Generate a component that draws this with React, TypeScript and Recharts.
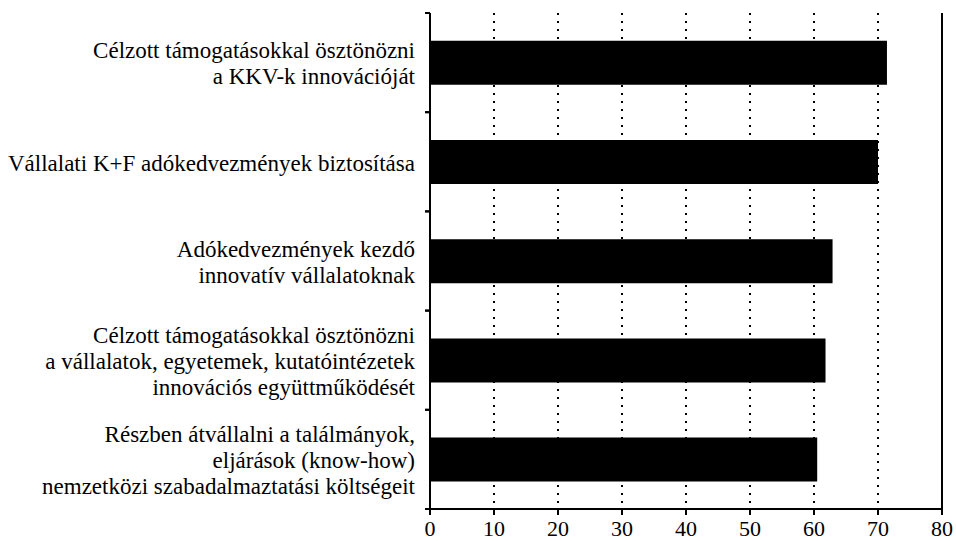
import { BarChart, Bar, XAxis, YAxis, CartesianGrid, ReferenceLine } from "recharts";

const categories = [
  "Célzott támogatásokkal ösztönözni\na KKV-k innovációját",
  "Vállalati K+F adókedvezmények biztosítása",
  "Adókedvezmények kezdő\ninnovatív vállalatoknak",
  "Célzott támogatásokkal ösztönözni\na vállalatok, egyetemek, kutatóintézetek\ninnovációs együttműködését",
  "Részben átvállalni a találmányok,\neljárások (know-how)\nnemzetközi szabadalmaztatási költségeit",
];
const values = [71.4, 70.0, 62.9, 61.8, 60.5];
const xTicks = [0, 10, 20, 30, 40, 50, 60, 70, 80];

const W = 956;
const H = 541;
const M_TOP = 13;
const M_RIGHT = 14;
const X_AXIS_H = 32;
const Y_AXIS_W = 430;
const TICK_SIZE = 6;
const TICK_MARGIN = 9;
const FONT = "Liberation Serif";
const FS = 23;
const LINE_H = 26;

const data = categories.map((name, i) => ({ name, value: values[i] }));
const halfBand = (H - M_TOP - X_AXIS_H) / categories.length / 2;

function CategoryTick(props: any) {
  const { x, y, payload } = props;
  const lines = String(payload.value).split("\n");
  const axisX = x + TICK_SIZE + TICK_MARGIN;
  const startDy = -((lines.length - 1) / 2) * LINE_H;
  return (
    <g>
      <line x1={axisX} x2={axisX - 5} y1={y - halfBand} y2={y - halfBand} stroke="#000" strokeWidth={2} />
      <line x1={axisX} x2={axisX - 5} y1={y + halfBand} y2={y + halfBand} stroke="#000" strokeWidth={2} />
      <text
        x={x}
        y={y}
        textAnchor="end"
        fill="#000"
        style={{ fontFamily: FONT, fontSize: FS }}
      >
        {lines.map((l, i) => (
          <tspan key={i} x={x} dy={i === 0 ? startDy + FS * 0.38 : LINE_H}>
            {l}
          </tspan>
        ))}
      </text>
    </g>
  );
}

export default function App() {
  return (
    <div style={{ position: "absolute", left: 0, top: 0, background: "#fff", fontFamily: FONT }}>
      <BarChart
        width={W}
        height={H}
        data={data}
        layout="vertical"
        margin={{ top: M_TOP, right: M_RIGHT, left: 0, bottom: 0 }}
        barCategoryGap="28%"
        style={{ fontFamily: FONT }}
      >
        <CartesianGrid
          horizontal={false}
          stroke="#000"
          strokeWidth={2}
          strokeDasharray="2 6"
        />
        <XAxis
          type="number"
          domain={[0, 80]}
          ticks={xTicks}
          height={X_AXIS_H}
          axisLine={{ stroke: "#000", strokeWidth: 2 }}
          tickLine={{ stroke: "#000", strokeWidth: 2 }}
          tickSize={6}
          tickMargin={5}
          tick={{ fill: "#000", fontSize: 22, style: { fontFamily: FONT } }}
        />
        <XAxis
          xAxisId="top"
          orientation="top"
          type="number"
          domain={[0, 80]}
          height={0}
          tick={false}
          tickLine={false}
          axisLine={{ stroke: "#000", strokeWidth: 2 }}
        />
        <YAxis
          type="category"
          dataKey="name"
          width={Y_AXIS_W}
          axisLine={{ stroke: "#000", strokeWidth: 2 }}
          tickLine={false}
          tickSize={TICK_SIZE}
          tickMargin={TICK_MARGIN}
          interval={0}
          tick={<CategoryTick />}
        />
        <ReferenceLine x={80} stroke="#000" strokeWidth={2} />
        <Bar dataKey="value" fill="#000" isAnimationActive={false} />
      </BarChart>
    </div>
  );
}
